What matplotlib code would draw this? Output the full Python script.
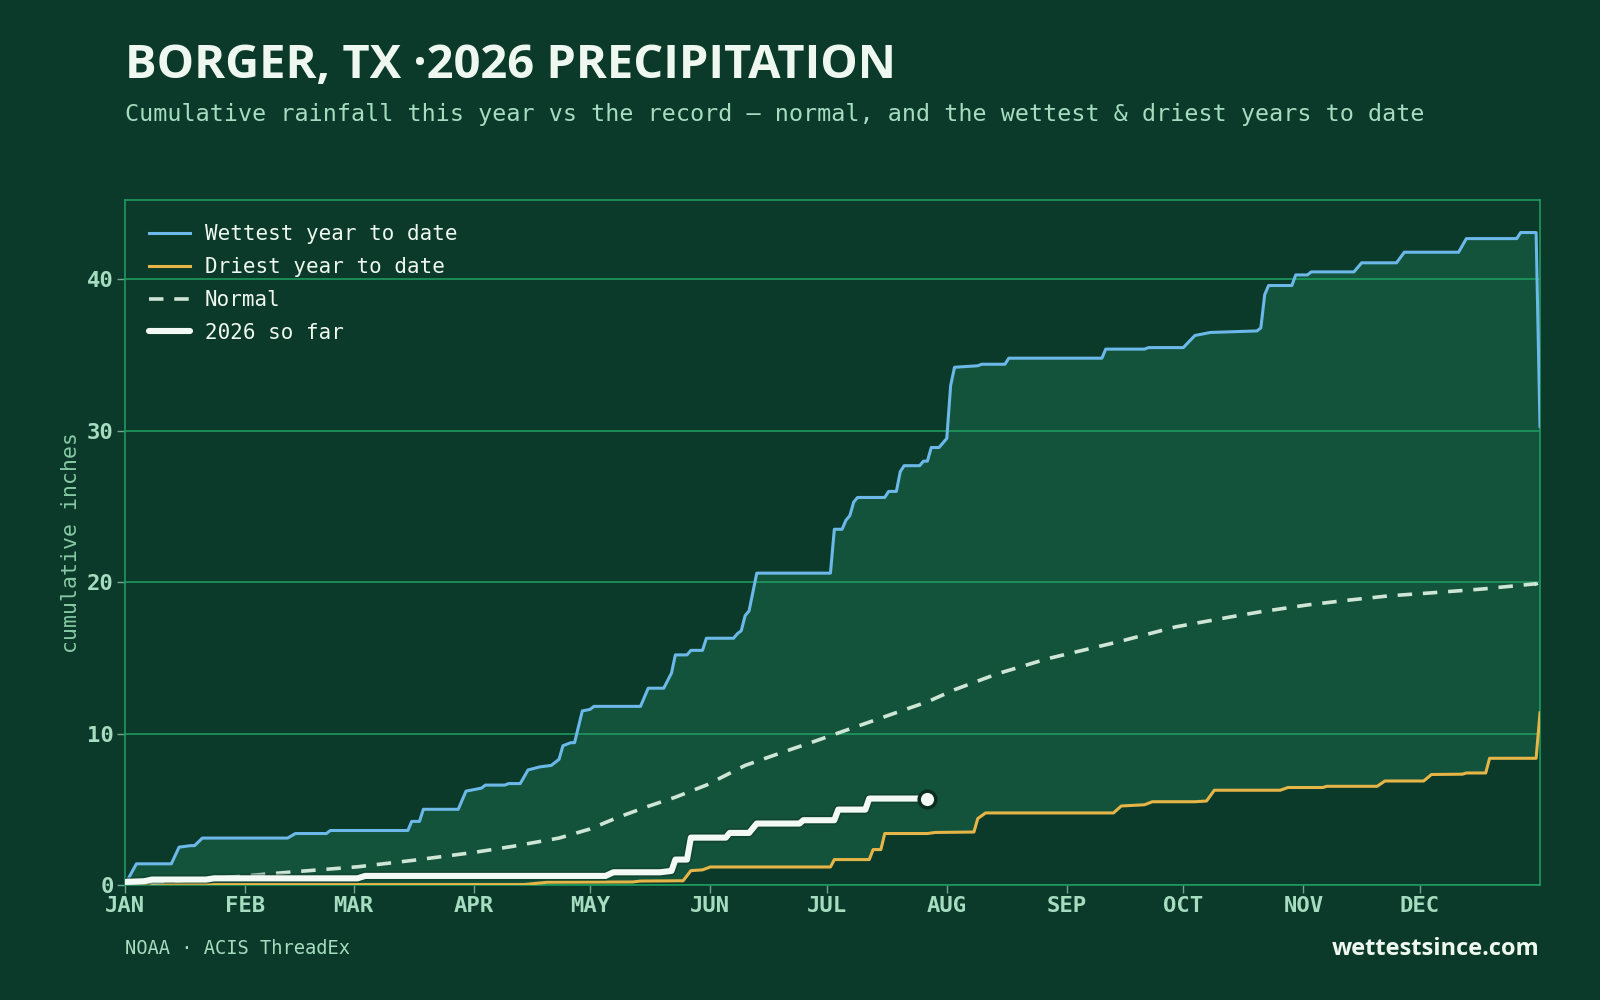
"""Borger, TX cumulative precipitation chart."""
import matplotlib
matplotlib.use("Agg")
import matplotlib.pyplot as plt
import matplotlib.patheffects as pe
import numpy as np

# colours
BG = "#0c3a2a"
FILL = "#13523b"
GRID = "#1f9a5e"
WET_C = "#6cb8e8"
DRY_C = "#e6b548"
NORM_C = "#cfe6d6"
NOW_C = "#f3faf5"
MUTED = "#a6dcc0"
TITLE_C = "#eef8f0"
MONO = "DejaVu Sans Mono"

# month ticks (day of year, 0 = Jan 1)
month_days = [0, 31, 59, 90, 120, 151, 181, 212, 243, 273, 304, 334]
month_labels = ["JAN", "FEB", "MAR", "APR", "MAY", "JUN",
                "JUL", "AUG", "SEP", "OCT", "NOV", "DEC"]

# wettest year to date (polyline vertices)
wet_days = [0, 3, 12, 14, 17, 18, 20, 42, 44, 52, 53, 73, 74, 76, 77, 86, 87, 88,
            92, 93, 98, 99, 102, 104, 107, 110, 112, 113, 115, 116, 118, 120, 121,
            133, 135, 139, 141, 142, 145, 146, 149, 150, 157, 158, 159, 160, 161,
            163, 182, 183, 185, 186, 187, 188, 189, 196, 197, 199, 200, 201, 205,
            206, 207, 208, 210, 212, 213, 214, 220, 221, 227, 228, 252, 253, 263,
            264, 273, 276, 280, 292, 293, 294, 295, 301, 302, 305, 306, 317, 319,
            328, 330, 344, 346, 359, 360, 364, 365]
wet_vals = [0, 1.4, 1.4, 2.5, 2.6, 2.6, 3.1, 3.1, 3.4, 3.4, 3.6, 3.6, 4.2, 4.2,
            5.0, 5.0, 5.6, 6.2, 6.4, 6.6, 6.6, 6.7, 6.7, 7.6, 7.8, 7.9, 8.3, 9.2,
            9.4, 9.4, 11.5, 11.6, 11.8, 11.8, 13.0, 13.0, 14.0, 15.2, 15.2, 15.5,
            15.5, 16.3, 16.3, 16.6, 16.8, 17.8, 18.1, 20.6, 20.6, 23.5, 23.5, 24.1,
            24.4, 25.3, 25.6, 25.6, 26.0, 26.0, 27.3, 27.7, 27.7, 28.0, 28.0, 28.9,
            28.9, 29.5, 33.0, 34.2, 34.3, 34.4, 34.4, 34.8, 34.8, 35.4, 35.4, 35.5,
            35.5, 36.3, 36.5, 36.6, 36.8, 39.0, 39.6, 39.6, 40.3, 40.3, 40.5, 40.5,
            41.1, 41.1, 41.8, 41.8, 42.7, 42.7, 43.1, 43.1, 30.3]

# driest year to date
dry_days = [0, 3, 103, 109, 131, 133, 144, 146, 149, 151, 182, 183, 192, 193, 195,
            196, 207, 209, 219, 220, 222, 255, 257, 263, 265, 276, 279, 281, 298,
            300, 309, 310, 323, 325, 335, 337, 345, 346, 351, 352, 364, 365]
dry_vals = [0, 0.03, 0.03, 0.18, 0.2, 0.26, 0.28, 0.95, 1.0, 1.19, 1.19, 1.68,
            1.68, 2.34, 2.34, 3.4, 3.4, 3.47, 3.5, 4.39, 4.76, 4.76, 5.22, 5.3,
            5.5, 5.5, 5.55, 6.26, 6.26, 6.44, 6.44, 6.52, 6.52, 6.87, 6.87, 7.3,
            7.32, 7.4, 7.4, 8.37, 8.37, 11.37]

# normal
norm_days = [0, 15, 31, 45, 60, 75, 90, 100, 112, 120, 127, 135, 142, 150, 160,
             170, 178, 188, 198, 207, 214, 225, 238, 256, 271, 285, 293, 305, 315,
             326, 337, 350, 364, 365]
norm_vals = [0, 0.3, 0.6, 0.9, 1.2, 1.65, 2.15, 2.55, 3.1, 3.7, 4.45, 5.2, 5.8,
             6.6, 7.9, 8.8, 9.5, 10.4, 11.3, 12.1, 12.9, 13.95, 14.95, 16.05,
             17.05, 17.7, 18.05, 18.5, 18.8, 19.1, 19.3, 19.55, 19.9, 19.26]

# 2026 so far
now_days = [0, 5, 7, 21, 23, 60, 62, 124, 126, 138, 141, 142, 145, 146, 155, 156,
            161, 163, 174, 175, 183, 184, 191, 192, 207]
now_vals = [0.2, 0.25, 0.36, 0.36, 0.44, 0.44, 0.6, 0.6, 0.84, 0.84, 0.93, 1.68,
            1.68, 3.13, 3.13, 3.44, 3.44, 4.06, 4.06, 4.28, 4.28, 4.98, 4.98,
            5.71, 5.71]

y_ticks = [0, 10, 20, 30, 40]

fig = plt.figure(figsize=(16, 10), dpi=100, facecolor=BG)
ax = fig.add_axes([0.078, 0.115, 0.8845, 0.685])
ax.set_facecolor(BG)

# band between driest and wettest
ax.fill(np.r_[wet_days, dry_days[::-1]], np.r_[wet_vals, dry_vals[::-1]],
        color=FILL, lw=0, zorder=0.3)

ax.plot(wet_days, wet_vals, color=WET_C, lw=2.2, label="Wettest year to date", zorder=3)
ax.plot(dry_days, dry_vals, color=DRY_C, lw=2.2, label="Driest year to date", zorder=3)
ax.plot(norm_days, norm_vals, color=NORM_C, lw=2.6, ls=(0, (4, 3)), label="Normal", zorder=3)
ax.plot(now_days, now_vals, color=NOW_C, lw=4.4, label="2026 so far", zorder=4,
        solid_capstyle="round",
        path_effects=[pe.Stroke(linewidth=6.8, foreground=BG, alpha=0.5), pe.Normal()])
ax.plot(now_days[-1:], now_vals[-1:], "o", ms=12, mfc=NOW_C, mec="#0a2e21",
        mew=2.5, zorder=5)

ax.set_xlim(0, 365)
ax.set_ylim(0, 45.25)
ax.set_xticks(month_days)
ax.set_xticklabels(month_labels)
ax.set_yticks(y_ticks)
for lab in ax.get_xticklabels() + ax.get_yticklabels():
    lab.set_fontfamily(MONO)
    lab.set_fontweight("bold")
    lab.set_fontsize(16)
    lab.set_color(MUTED)
ax.tick_params(axis="both", colors="#6fa88a", length=6, width=1, pad=2)
ax.tick_params(axis="x", labelcolor=MUTED)
ax.tick_params(axis="y", labelcolor=MUTED)

ax.set_axisbelow(True)
ax.yaxis.grid(True, color=GRID, lw=1.2)
ax.xaxis.grid(False)
for s in ax.spines.values():
    s.set_color(GRID)
    s.set_linewidth(1.2)

ax.set_ylabel("cumulative inches", fontfamily=MONO, fontsize=15.5, color="#86c9a4",
              labelpad=4)

leg = ax.legend(loc="upper left", frameon=False, prop={"family": MONO, "size": 15},
                handlelength=2.0, handletextpad=0.7, labelspacing=0.62,
                borderaxespad=0.75)
for t in leg.get_texts():
    t.set_color(TITLE_C)

fig.text(0.078, 0.9225, "BORGER, TX \u00b72026 PRECIPITATION", fontfamily="Open Sans",
         fontweight="bold", fontsize=33.8, color=TITLE_C, va="baseline")
fig.text(0.078, 0.885, "Cumulative rainfall this year vs the record \u2014 normal, and the "
         "wettest & driest years to date", fontfamily=MONO, fontsize=16.85, color=MUTED,
         va="center")
fig.text(0.078, 0.051, "NOAA \u00b7 ACIS ThreadEx", fontfamily=MONO, fontsize=13.5,
         color=MUTED, va="center")
fig.text(0.9625, 0.051, "wettestsince.com", fontfamily="Open Sans", fontweight="bold",
         fontsize=17, color=TITLE_C, va="center", ha="right")

fig.savefig("out.png", dpi=100, facecolor=BG)
